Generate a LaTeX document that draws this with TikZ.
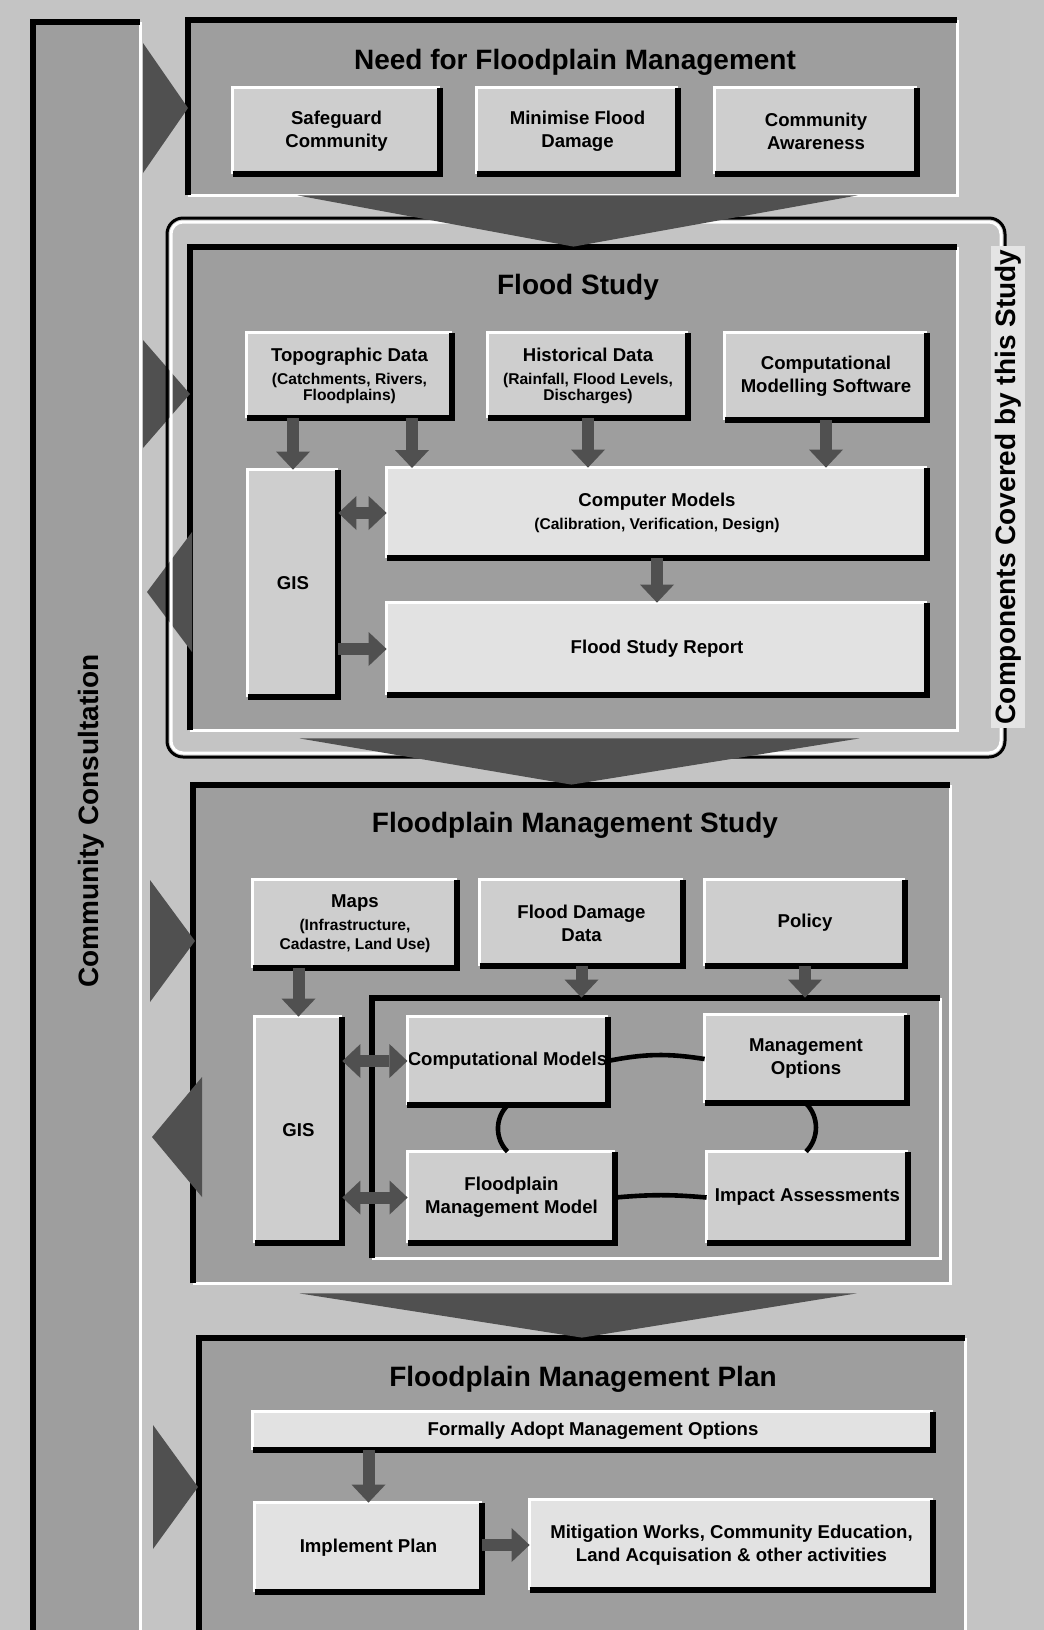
\documentclass[tikz,border=0pt]{standalone}
\usepackage{fontspec}
\setmainfont{Liberation Sans}
\usetikzlibrary{arrows.meta,calc,fit}
\definecolor{bgc}{HTML}{C4C4C4}
\definecolor{panelc}{HTML}{9E9E9E}
\definecolor{btnc}{HTML}{CECECE}
\definecolor{lightc}{HTML}{E2E2E2}
\definecolor{darkc}{HTML}{505050}
\newcommand{\subt}[1]{{\fontsize{7.8}{8.6}\selectfont #1}}

\begin{document}
\begin{tikzpicture}[x=.5pt,y=-.5pt,font=\bfseries\fontsize{9.3}{11.5}\selectfont,
  panel/.style={fill=panelc,inner sep=0pt},
  btn/.style={fill=btnc,inner sep=0pt,align=center},
  lbtn/.style={btn,fill=lightc},
  ttl/.style={font=\bfseries\fontsize{14}{16}\selectfont},
  flow/.style={darkc,line width=6pt,-{Triangle[length=9pt,width=17pt,line width=0pt]}},
  flowtwo/.style={darkc,line width=6pt,{Triangle[length=9pt,width=17pt,line width=0pt]}-{Triangle[length=9pt,width=17pt,line width=0pt]}},
  link/.style={line width=2.3pt}]
\fill[bgc] (0,0) rectangle (1044,1630);
\useasboundingbox (0,0) rectangle (1044,1630);
\node[panel,fit={(33,22) (140,1640)}] (bar) {};
\node[panel,fit={(188,20) (957,195)}] (need) {};
\node[panel,fit={(190,247) (957,730)}] (flood) {};
\node[panel,fit={(193,785) (950,1283)}] (fms) {};
\node[panel,fit={(199,1338) (965,1640)}] (fmp) {};
\node[panel,fit={(372,998) (940,1258)}] (frame) {};
\foreach \n in {bar,need,flood,fms,fmp,frame}{
\draw[white,line width=1.5pt] (\n.south west) -| (\n.north east);
\draw[line width=3pt] (\n.south west) |- (\n.north east);}
\foreach \xa/\xb/\ym/\hh in {143/188/108/65,143/190/394/54,150/195/941/61,153/198/1487/62,192/147/592/60,202/152/1137/60}
\fill[darkc] (\xa,\ym-\hh) -- (\xb,\ym) -- (\xa,\ym+\hh) -- cycle;
\draw[line width=1.5pt,rounded corners=8pt] (167,218) rectangle (1005,757);
\draw[white,line width=1.5pt,rounded corners=6pt] (171,222) rectangle (1001,753);
\node[ttl,rotate=90,fill=bgc!45!white,inner sep=2pt] (cover) at (1008,487) {Components Covered by this Study};
\fill[darkc] ($(need.south)+(-275,0)$) -- ($(need.south)+(285,0)$) -- (flood.north) -- cycle;
\fill[darkc] ($(flood.south)+(-274,8)$) -- ($(flood.south)+(286,8)$) -- (fms.north) -- cycle;
\fill[darkc] ($(fms.south)+(-272,10)$) -- ($(fms.south)+(285,10)$) -- (fmp.north) -- cycle;
\node[ttl,rotate=90] (cons) at (91,821) {Community Consultation};
\node[ttl] (needttl) at (575,62) {Need for Floodplain Management};
\node[ttl] (floodttl) at (578,287) {Flood Study};
\node[ttl] (fmsttl) at (575,825) {Floodplain Management Study};
\node[ttl] (fmpttl) at (583,1379) {Floodplain Management Plan};
\node[btn,minimum width=103.5pt,minimum height=43pt] (safe) at (336.5,131) {Safeguard\\Community};
\node[btn,minimum width=100.5pt,minimum height=43pt] (mini) at (577.5,131) {Minimise Flood\\Damage};
\node[btn,minimum width=101pt,minimum height=43pt] (aware) at (816,131) {Community\\Awareness};
\node[btn,minimum width=102.5pt,minimum height=42.5pt] (topo) at (349.5,375.5) {Topographic Data\\\subt{(Catchments, Rivers,}\\[-3.5pt]\subt{Floodplains)}};
\node[btn,minimum width=100pt,minimum height=42.5pt] (hist) at (588,375.5) {Historical Data\\\subt{(Rainfall, Flood Levels,}\\[-3.5pt]\subt{Discharges)}};
\node[btn,minimum width=101pt,minimum height=43.5pt] (soft) at (826,376.5) {Computational\\Modelling Software};
\node[btn,minimum width=45pt,minimum height=113.5pt] (gis1) at (293,583.5) {GIS};
\node[lbtn,minimum width=270pt,minimum height=45pt] (cmod) at (657,513) {Computer Models\\\subt{(Calibration, Verification, Design)}};
\node[lbtn,minimum width=270pt,minimum height=46pt] (fsr) at (657,649) {Flood Study Report};
\node[btn,minimum width=102pt,minimum height=44pt] (maps) at (355,924) {Maps\\\subt{(Infrastructure,}\\[-2pt]\subt{Cadastre, Land Use)}};
\node[btn,minimum width=101.5pt,minimum height=43pt] (dmg) at (581.5,923) {Flood Damage\\Data};
\node[btn,minimum width=100pt,minimum height=43pt] (policy) at (805,923) {Policy};
\node[btn,minimum width=43.5pt,minimum height=113pt] (gis2) at (298.5,1130) {GIS};
\node[btn,minimum width=99.5pt,minimum height=44pt] (comp) at (507.5,1061) {Computational Models};
\node[btn,minimum width=101pt,minimum height=44pt] (mopt) at (806,1059) {Management\\Options};
\node[btn,minimum width=103.5pt,minimum height=45.5pt] (fpmm) at (511.5,1197.5) {Floodplain\\Management Model};
\node[btn,minimum width=100.5pt,minimum height=45.5pt] (impact) at (807.5,1197.5) {Impact Assessments};
\node[lbtn,minimum width=340pt,minimum height=19pt] (adopt) at (593,1431) {Formally Adopt Management Options};
\node[lbtn,minimum width=113.5pt,minimum height=44.5pt] (impl) at (368.5,1547.5) {Implement Plan};
\node[lbtn,minimum width=201.5pt,minimum height=45pt] (mitig) at (731.5,1545) {Mitigation Works, Community Education,\\Land Acquisation \& other activities};
\foreach \n in {safe,mini,aware,topo,hist,soft,gis1,cmod,fsr,maps,dmg,policy,gis2,comp,mopt,fpmm,impact,adopt,impl,mitig}{
\draw[white,line width=1.5pt] (\n.south west) |- (\n.north east);
\draw[line width=3pt] (\n.south west) -| (\n.north east);}
\coordinate (t2) at (412,468);
\draw[flow] (topo.south -| gis1.north) -- (gis1.north);
\draw[flow] (topo.south -| t2) -- (t2);
\draw[flow] (hist.south) -- (hist.south |- cmod.north);
\draw[flow] (soft.south) -- (soft.south |- cmod.north);
\draw[flowtwo] (gis1.east |- cmod.west) -- (cmod.west);
\draw[flow] (gis1.east |- fsr.west) -- (fsr.west);
\draw[flow] (cmod.south) -- (fsr.north);
\draw[flow] (maps.south -| gis2.north) -- (gis2.north);
\draw[flow] (dmg.south) -- (dmg.south |- frame.north);
\draw[flow] (policy.south) -- (policy.south |- frame.north);
\draw[flowtwo] (gis2.east |- comp.west) -- (comp.west);
\draw[flowtwo] (gis2.east |- fpmm.west) -- (fpmm.west);
\draw[flow] (adopt.south -| impl.north) -- (impl.north);
\draw[flow] (impl.east |- mitig.west) -- (mitig.west);
\draw[link] (comp.east) to[bend left=10] (mopt.west);
\draw[link] (mopt.south) to[bend left=45] (mopt.south |- impact.north);
\draw[link] (impact.west) to[bend right=5] (fpmm.east);
\draw[link] (comp.south) to[bend right=45] (comp.south |- fpmm.north);
\end{tikzpicture}
\end{document}
